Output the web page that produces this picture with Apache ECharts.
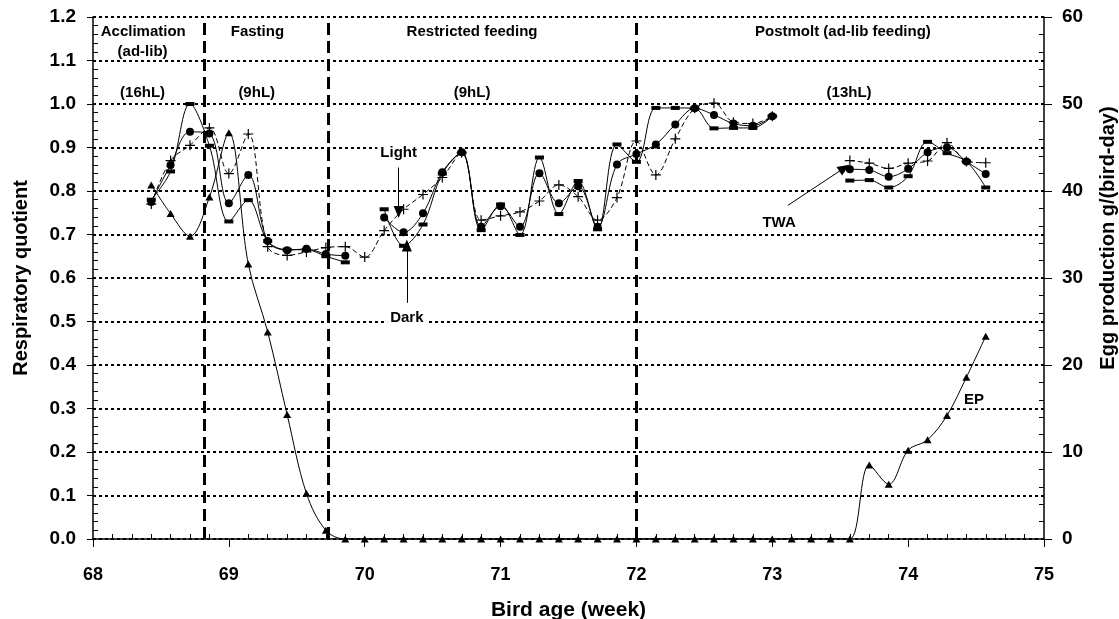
<!DOCTYPE html>
<html><head><meta charset="utf-8">
<script src="https://cdn.jsdelivr.net/npm/echarts/dist/echarts.min.js"></script>
<style>html,body{margin:0;padding:0;background:#fff}#c{width:1119px;height:619px}</style>
</head><body><div id="c"></div>
<script>
// Bird age (weeks), one point per day
const ages = [68.429,68.571,68.714,68.857,69.000,69.143,69.286,69.429,69.571,69.714,
  69.857,70.000,70.143,70.286,70.429,70.571,70.714,70.857,71.000,71.143,
  71.286,71.429,71.571,71.714,71.857,72.000,72.143,72.286,72.429,72.571,
  72.714,72.857,73.000,73.143,73.286,73.429,73.571,73.714,73.857,74.000,
  74.143,74.286,74.429,74.571];
// Respiratory quotient – time-weighted average
const twa = [0.775,0.860,0.936,0.932,0.772,0.837,0.685,0.664,0.667,0.655,
  0.651,null,0.739,0.705,0.749,0.843,0.889,0.718,0.765,0.718,
  0.841,0.772,0.811,0.718,0.861,0.885,0.907,0.953,0.990,0.975,
  0.955,0.950,0.972,null,null,null,0.850,0.848,0.833,0.851,
  0.889,0.900,0.868,0.839];
// Respiratory quotient – dark period
const dark = [0.780,0.845,1.000,0.904,0.730,0.779,0.685,0.665,0.665,0.650,
  0.636,null,0.758,0.674,0.723,0.840,0.888,0.710,0.769,0.699,
  0.877,0.747,0.823,0.712,0.907,0.867,0.991,0.991,0.990,0.944,
  0.945,0.945,0.972,null,null,null,0.824,0.825,0.808,0.834,
  0.913,0.887,0.868,0.808];
// Respiratory quotient – light period
const light = [0.770,0.870,0.905,0.945,0.840,0.931,0.672,0.652,0.660,0.670,
  0.672,0.648,0.709,0.758,0.792,0.831,0.888,0.733,0.743,0.752,
  0.777,0.814,0.787,0.733,0.785,0.915,0.837,0.920,0.990,1.002,
  0.958,0.955,0.972,null,null,null,0.870,0.864,0.852,0.864,
  0.869,0.911,0.868,0.865];
// Egg production g/(bird-day)
const ep = [40.7,37.4,34.8,39.3,46.7,31.6,23.8,14.3,5.25,1.0,
  0,0,0,0,0,0,0,0,0,0,
  0,0,0,0,0,0,0,0,0,0,
  0,0,0,0,0,0,0,8.5,6.3,10.2,
  11.4,14.2,18.6,23.3];
// Phase boundaries (weeks)
const phaseBounds = [68.82, 69.73, 72.0];
// Text labels: [text, age, rq]
const phaseLabels = [
  ['Acclimation',68.37,1.166],['(ad-lib)',68.365,1.12],['(16hL)',68.365,1.026],
  ['Fasting',69.21,1.166],['(9hL)',69.205,1.026],
  ['Restricted feeding',70.79,1.166],['(9hL)',70.79,1.026],
  ['Postmolt (ad-lib feeding)',73.52,1.166],['(13hL)',73.565,1.026]
];
const noteLabels = [['Light',70.25,0.888],['Dark',70.31,0.509],['TWA',73.05,0.727],['EP',74.484,0.32]];
const arrows = [[[70.25,0.854],[70.25,0.752]],[[70.31,0.543],[70.31,0.675]],[[73.115,0.767],[73.53,0.853]]];

const FONT = 'Arial, "Liberation Sans", sans-serif';
const pair = arr => ages.map((a,i)=>[a, arr[i]===null?'-':arr[i]]);
const plus = 'path://M0,4.4H10V5.6H0Z M4.4,0H5.6V10H4.4Z';

const chart = echarts.init(document.getElementById('c'), null, {renderer:'canvas'});
const axisLab = (size)=>({color:'#000', fontWeight:'bold', fontSize:size, fontFamily:FONT});
// overlay axis that only draws inward-pointing minor ticks
const minorOnly = (base, split)=>Object.assign({
  axisLine:{show:false}, axisLabel:{show:false}, splitLine:{show:false},
  axisTick:{show:false, inside:true},
  minorTick:{show:true, splitNumber:split, length:5, lineStyle:{color:'#000', width:1}},
  minorSplitLine:{show:false}
}, base);
const option = {
  animation:false,
  backgroundColor:'#fff',
  grid:{left:93, right:75, top:17, bottom:80, containLabel:false, outerBoundsMode:'none'},
  xAxis:[
    {type:'value', min:68, max:75, interval:1,
      name:'Bird age (week)', nameLocation:'middle', nameGap:61,
      nameTextStyle:axisLab(21),
      axisLine:{lineStyle:{color:'#000', width:1.5}},
      axisTick:{show:true, inside:false, length:8, lineStyle:{color:'#000', width:1}},
      axisLabel:Object.assign({margin:27}, axisLab(18)),
      splitLine:{show:false}},
    minorOnly({type:'value', min:68, max:75, interval:1, position:'bottom'}, 7)
  ],
  yAxis:[
    {type:'value', min:0, max:1.2, interval:0.1, position:'left',
      name:'Respiratory quotient', nameLocation:'middle', nameGap:62, nameRotate:90,
      nameTextStyle:axisLab(20),
      axisLine:{show:true, lineStyle:{color:'#000', width:1.5}},
      axisTick:{show:true, inside:false, length:6, lineStyle:{color:'#000'}},
      axisLabel:Object.assign({margin:17, formatter:v=>v.toFixed(1)}, axisLab(19)),
      splitLine:{show:true, lineStyle:{color:'#000', width:2, type:[3,3]}}},
    {type:'value', min:0, max:60, interval:10, position:'right',
      name:'Egg production g/(bird-day)', nameLocation:'middle', nameGap:54, nameRotate:90,
      nameTextStyle:Object.assign({padding:[0,0,0,80]}, axisLab(20)),
      axisLine:{show:true, lineStyle:{color:'#000', width:1.5}},
      axisTick:{show:true, inside:false, length:8, lineStyle:{color:'#000'}},
      axisLabel:Object.assign({margin:18}, axisLab(19)),
      splitLine:{show:false}},
    minorOnly({type:'value', min:0, max:1.2, interval:0.1, position:'left'}, 5),
    minorOnly({type:'value', min:0, max:60, interval:10, position:'right'}, 5)
  ],
  series:[
    {name:'EP', type:'line', yAxisIndex:1, data:pair(ep), smooth:0.35,
      symbol:'triangle', symbolSize:[8,7], itemStyle:{color:'#000'},
      lineStyle:{color:'#000', width:1}, z:3},
    {name:'Dark', type:'line', data:pair(dark), smooth:0.35, connectNulls:false,
      symbol:'rect', symbolSize:[9,4], itemStyle:{color:'#000'},
      lineStyle:{color:'#000', width:1}, z:4},
    {name:'Light', type:'line', data:pair(light), smooth:0.35, connectNulls:false,
      symbol:plus, symbolSize:10, itemStyle:{color:'#000'},
      lineStyle:{color:'#000', width:1, type:[5,3]}, z:4},
    {name:'TWA', type:'line', data:pair(twa), smooth:0.35, connectNulls:false,
      symbol:'circle', symbolSize:8, itemStyle:{color:'#000'},
      lineStyle:{color:'#000', width:1}, z:5,
      markLine:{silent:true, animation:false, symbol:['none','none'], label:{show:false},
        data: phaseBounds.map(v=>({xAxis:v, lineStyle:{color:'#000', width:3, type:[12,6]}}))
          .concat(arrows.map(a=>[
            {coord:a[0], symbol:'none', lineStyle:{color:'#000', width:1, type:'solid'}},
            {coord:a[1], symbol:'triangle', symbolSize:[10,12]}]))
      }}
  ]
};
chart.setOption(option);

function build(){
  const els = [];
  phaseLabels.forEach(([t,x,y])=>{
    const p = chart.convertToPixel({xAxisIndex:0,yAxisIndex:0},[x,y]);
    els.push({type:'text', x:p[0], y:p[1], z:10, style:{text:t, fill:'#000', font:'bold 15px '+FONT, align:'center', verticalAlign:'middle'}});
  });
  noteLabels.forEach(([t,x,y])=>{
    const p = chart.convertToPixel({xAxisIndex:0,yAxisIndex:0},[x,y]);
    els.push({type:'text', x:p[0], y:p[1], z:10, style:{text:t, fill:'#000', font:'bold 15px '+FONT, align:'center', verticalAlign:'middle', backgroundColor:'#fff', padding:[1,3]}});
  });
  chart.setOption({graphic:{elements:els}});
}
build();
</script>
</body></html>
